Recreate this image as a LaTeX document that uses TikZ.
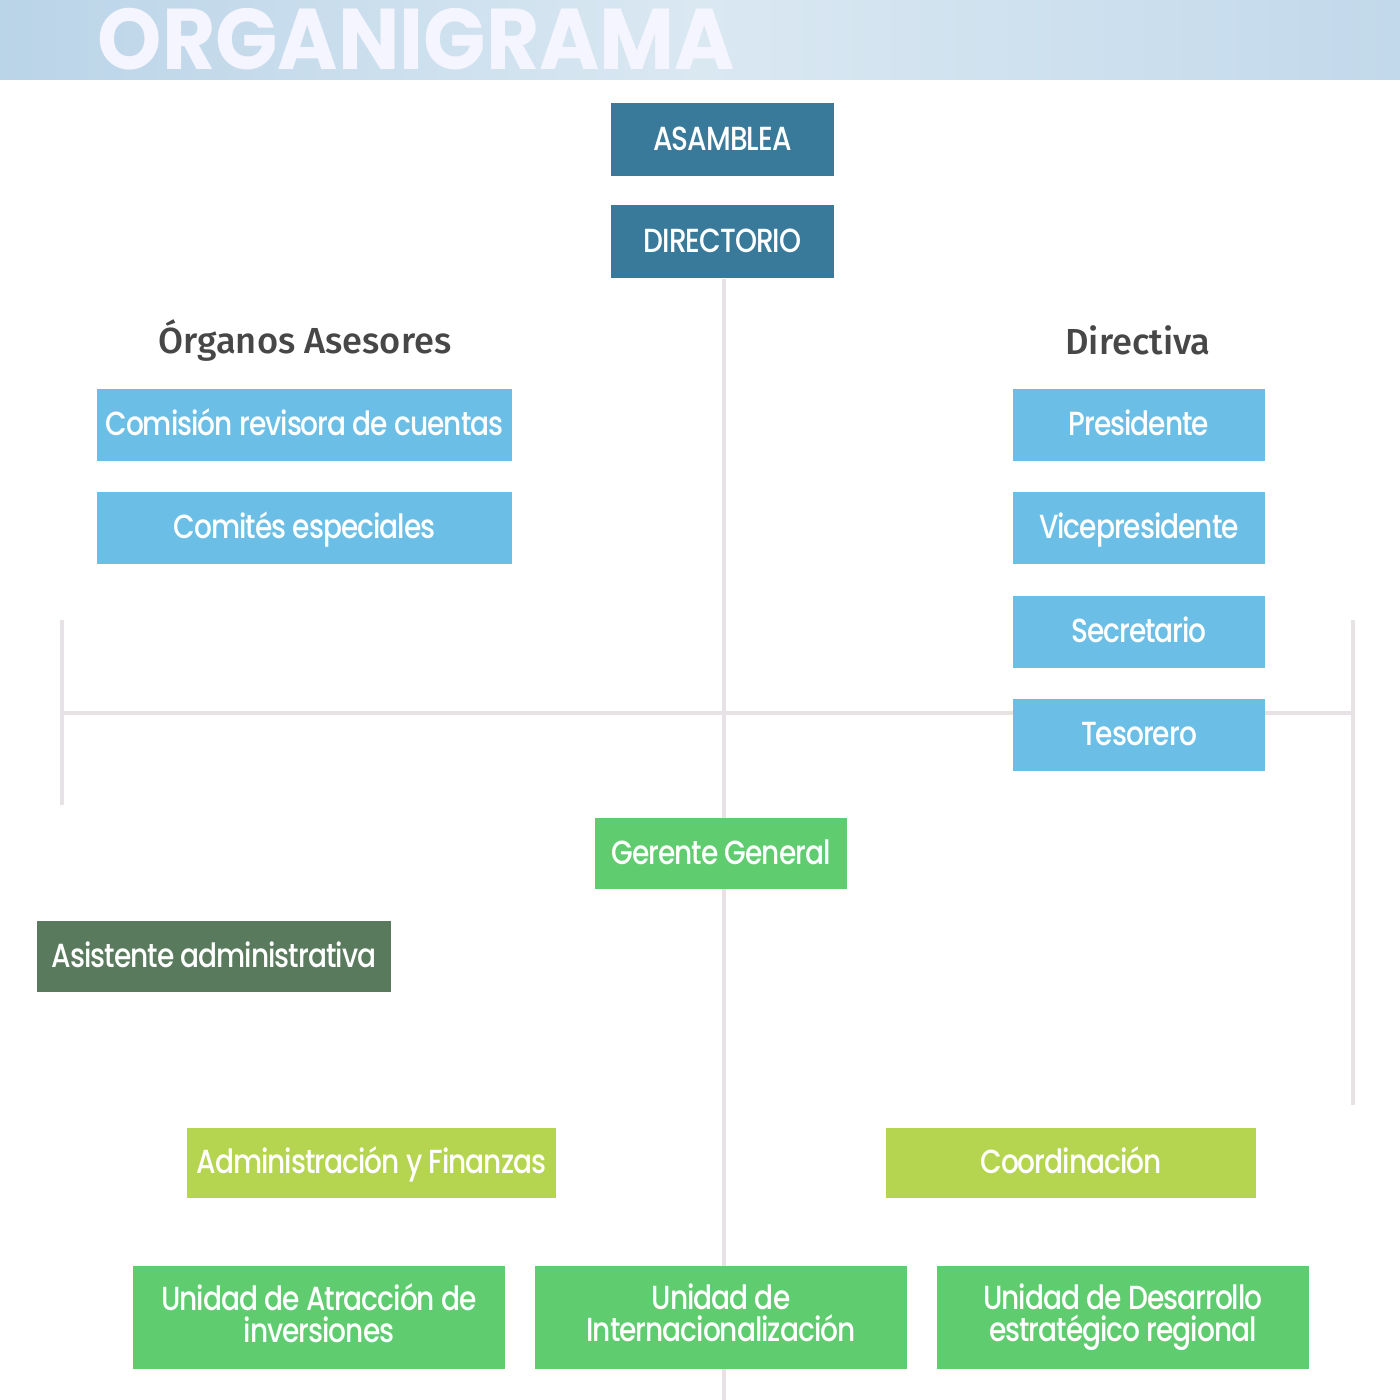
\documentclass[tikz,border=0pt]{standalone}
\usepackage{fontspec}
\usetikzlibrary{backgrounds}
\setmainfont{Poppins}
\newfontfamily\boxfont[FakeStretch=0.84,LetterSpace=-3]{Poppins Medium}
\newfontfamily\titlefont[FakeStretch=0.95]{Poppins Bold}
\newfontfamily\headfont{Fira Sans Medium}
\definecolor{azuloscuro}{HTML}{39799A}
\definecolor{celeste}{HTML}{6BBFE6}
\definecolor{verde}{HTML}{5FCD6F}
\definecolor{verdelima}{HTML}{B5D44F}
\definecolor{verdegris}{HTML}{5A7A5E}
\definecolor{linea}{HTML}{E6E2E6}
\definecolor{gristexto}{HTML}{474747}
\definecolor{cieloa}{HTML}{BAD4E8}
\definecolor{cielob}{HTML}{DAE8F2}
\definecolor{cieloc}{HTML}{C2D9EB}
\tikzset{
  caja/.style={rectangle, inner sep=0pt, align=center, text=white, font=\boxfont\fontsize{9.5}{10.5}\selectfont},
  cajauna/.style={caja, text height=7.6pt, text depth=1.4pt},
  cajachica/.style={cajauna, minimum width=2.52cm, minimum height=0.72cm, fill=celeste},
  cajaancha/.style={cajauna, minimum width=4.15cm, minimum height=0.72cm, fill=celeste},
  unidad/.style={caja, minimum width=3.72cm, minimum height=1.03cm, fill=verde,
    font=\boxfont\fontsize{9.5}{9.1}\selectfont,
    execute at begin node=\rule{0pt}{11.5pt}, execute at end node=\vphantom{g}},
  titulo/.style={text=gristexto, font=\headfont\fontsize{10.3}{12}\selectfont},
  conector/.style={linea, line width=1.3pt}
}
\begin{document}
\begin{tikzpicture}[x=0.01cm, y=-0.01cm]
\useasboundingbox (0,0) rectangle (1400,1400);
% cabecera
\shade[left color=cieloa, right color=cieloc, middle color=cielob] (0,0) rectangle (1400,80);
\node[anchor=base west, inner sep=0pt, text=white!96!blue, font=\titlefont\fontsize{24.5}{26}\selectfont] (titulo) at (97,70) {ORGANIGRAMA};
% cuerpo directivo
\node[cajauna, fill=azuloscuro, minimum width=2.23cm, minimum height=0.73cm] (asamblea) at (722.5,139.5) {ASAMBLEA};
\node[cajauna, fill=azuloscuro, minimum width=2.23cm, minimum height=0.73cm] (directorio) at (722.5,241.5) {DIRECTORIO};
\node[titulo] (organos) at (305,340) {Órganos Asesores};
\node[titulo] (directiva) at (1138,340) {Directiva};
\node[cajaancha] (comision) at (304.5,425) {Comisión revisora de cuentas};
\node[cajaancha] (comites) at (304.5,528) {Comités especiales};
\node[cajachica] (presidente) at (1139,425) {Presidente};
\node[cajachica] (vice) at (1139,528) {Vicepresidente};
\node[cajachica] (secretario) at (1139,632) {Secretario};
\node[cajachica] (tesorero) at (1139,735) {Tesorero};
% gerencia
\node[cajauna, fill=verde, minimum width=2.52cm, minimum height=0.71cm] (gerente) at (721,853.5) {Gerente General};
\node[cajauna, fill=verdegris, minimum width=3.54cm, minimum height=0.71cm] (asistente) at (214,956.5) {Asistente administrativa};
\node[cajauna, fill=verdelima, minimum width=3.69cm, minimum height=0.70cm] (admin) at (371.5,1163) {Administración y Finanzas};
\node[cajauna, fill=verdelima, minimum width=3.70cm, minimum height=0.70cm] (coord) at (1071,1163) {Coordinación};
\node[unidad] (atraccion) at (319,1317.5) {Unidad de Atracción de\\inversiones};
\node[unidad] (inter) at (721,1317.5) {Unidad de\\Internacionalización};
\node[unidad] (desarrollo) at (1123,1317.5) {Unidad de Desarrollo\\estratégico regional};
% lineas
\coordinate (fondo) at (724,1400);
\coordinate (izq) at (62,713);
\coordinate (der) at (1353,713);
\coordinate (izqarriba) at (62,620);
\coordinate (izqabajo) at (62,805);
\coordinate (derarriba) at (1353,620);
\coordinate (derabajo) at (1353,1105);
\begin{scope}[on background layer]
\draw[conector] (directorio.south -| fondo) -- (fondo);
\draw[conector] (izq) -- (der);
\draw[conector] (izqarriba) -- (izqabajo);
\draw[conector] (derarriba) -- (derabajo);
\end{scope}
\end{tikzpicture}
\end{document}
